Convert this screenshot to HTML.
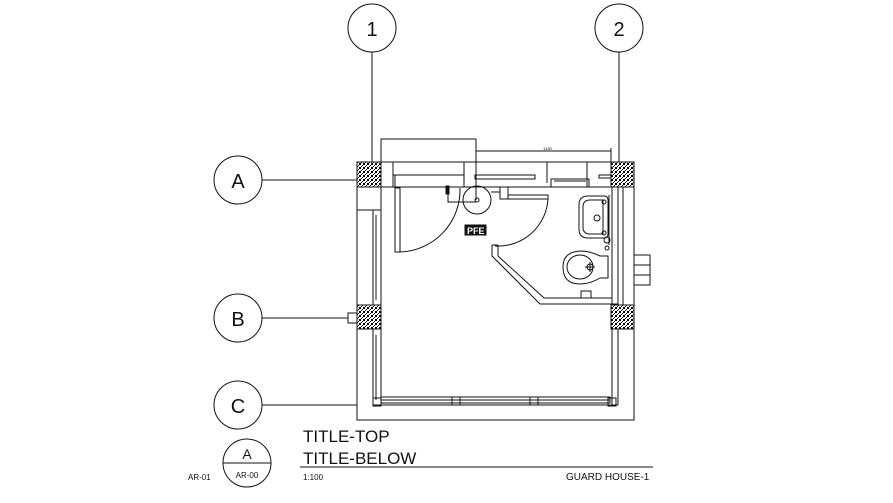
<!DOCTYPE html>
<html><head><meta charset="utf-8"><style>
html,body{margin:0;padding:0;background:#fff;}
svg{display:block;}
text{font-family:"Liberation Sans",sans-serif;fill:#111;}
</style></head><body>
<svg width="893" height="503" viewBox="0 0 893 503" xmlns="http://www.w3.org/2000/svg">
<defs>
<pattern id="hatch" width="4" height="4" patternUnits="userSpaceOnUse">
<rect width="4" height="4" fill="#fff"/>
<rect x="0" y="0" width="1" height="1" fill="#000"/><rect x="2" y="1" width="1" height="1" fill="#000"/>
<rect x="1" y="2" width="1" height="1" fill="#000"/><rect x="3" y="3" width="1" height="1" fill="#000"/>
<rect x="3" y="0" width="1" height="1" fill="#000"/><rect x="0" y="3" width="1" height="1" fill="#000"/>
</pattern>
</defs>
<g fill="none" stroke="#111" stroke-width="1">
<!-- grid bubbles -->
<circle cx="372" cy="28" r="24"/><line x1="372" y1="52" x2="372" y2="162"/>
<circle cx="619" cy="28" r="24"/><line x1="619" y1="52" x2="619" y2="162"/>
<circle cx="238" cy="180" r="24"/><line x1="262" y1="180" x2="357" y2="180"/>
<circle cx="238" cy="318" r="24"/><line x1="262" y1="318" x2="348" y2="318"/>
<circle cx="238" cy="405" r="24"/><line x1="262" y1="405" x2="357" y2="405"/>
<!-- outer -->
<rect x="357" y="162" width="277" height="258"/>
<line x1="357" y1="187" x2="634" y2="187"/>
<line x1="357" y1="210" x2="381" y2="210"/>
<line x1="381" y1="162" x2="381" y2="405"/>
<line x1="373" y1="210" x2="373" y2="405"/>
<line x1="376" y1="215" x2="376" y2="300"/><line x1="376" y1="335" x2="376" y2="400"/>
<line x1="612" y1="187" x2="612" y2="405"/>
<line x1="618" y1="187" x2="618" y2="405"/>
<line x1="623" y1="187" x2="623" y2="305"/>
<line x1="373" y1="405" x2="618" y2="405"/>
<rect x="381" y="397" width="229" height="6"/>
<line x1="381" y1="400" x2="610" y2="400"/>
<rect x="452" y="397" width="8" height="8"/><rect x="530" y="397" width="8" height="8"/>
<rect x="373" y="398" width="8" height="8"/><rect x="608" y="398" width="8" height="8"/>
<!-- left step & right step -->
<rect x="348" y="313" width="9" height="10"/>
<rect x="634" y="255" width="16" height="30"/><line x1="634" y1="265" x2="650" y2="265"/><line x1="634" y1="275" x2="650" y2="275"/>
<!-- top entry box -->
<polyline points="381,162 381,139 476,139 476,200"/>
<line x1="476" y1="147" x2="476" y2="162"/>
<line x1="476" y1="151" x2="611" y2="151"/><line x1="611" y1="148" x2="611" y2="162"/>
<!-- top counter -->
<rect x="464" y="162" width="154" height="25"/>
<line x1="393" y1="162" x2="393" y2="187"/><line x1="393" y1="175" x2="464" y2="175"/>
<line x1="395" y1="175" x2="395" y2="187"/>
<rect x="475" y="175" width="60" height="4"/>
<line x1="547" y1="162" x2="547" y2="183"/>
<rect x="551" y="179" width="38" height="8"/><line x1="554" y1="181" x2="586" y2="181"/>
<line x1="587" y1="162" x2="587" y2="187"/>
<rect x="599" y="175" width="12" height="3"/>
<!-- door 1 -->
<rect x="395" y="188" width="5" height="64"/>
<path d="M400,252 A62,62 0 0 0 460,188"/>
<path d="M448,188 L448,202 L476,202"/>
<rect x="446" y="186" width="3" height="8" fill="#111"/>
<circle cx="477" cy="200" r="14"/><circle cx="477" cy="200" r="2"/>
<line x1="491" y1="192" x2="500" y2="192"/>
<!-- PFE -->
<rect x="465" y="225" width="21" height="10" fill="#111"/>
<!-- door 2 -->
<rect x="500" y="187" width="8" height="12"/>
<rect x="508" y="195" width="40" height="4"/>
<path d="M548,199 A50,50 0 0 1 495,246"/>
<!-- partition -->
<polyline points="492,245 492,256 540,304 618,304"/>
<polyline points="498,245 498,256 544,298 612,298"/>
<line x1="492" y1="245" x2="498" y2="245"/>
<rect x="581" y="291" width="10" height="7"/>
<!-- sink -->
<path d="M588,196 L604,196 Q608,196 608,200 L608,234 Q608,238 604,238 L588,238 Q579,238 579,229 L579,205 Q579,196 588,196 Z"/>
<path d="M590,200 L603,200 L603,234 L590,234 Q583,234 583,227 L583,207 Q583,200 590,200 Z"/>
<circle cx="597" cy="218" r="3"/><circle cx="604" cy="202" r="2"/><circle cx="604" cy="233" r="2"/>
<line x1="609" y1="195" x2="609" y2="245"/>
<circle cx="607" cy="240" r="3"/><circle cx="607" cy="248" r="2"/>
<!-- toilet -->
<path d="M600,256 L608,256 L608,278 L600,278 Q590,284 580,284 Q563,284 563,267 Q563,252 580,251 Q590,251 600,256 Z"/>
<ellipse cx="580" cy="267" rx="13" ry="12"/>
<circle cx="590" cy="267" r="3"/><line x1="585" y1="267" x2="595" y2="267"/><line x1="590" y1="262" x2="590" y2="272"/>
<!-- title lines -->
<line x1="300" y1="467" x2="653" y2="467"/>
<circle cx="247" cy="463" r="24"/>
<line x1="223" y1="463" x2="271" y2="463"/>
</g>
<!-- columns -->
<g fill="url(#hatch)" stroke="#111">
<rect x="357" y="162" width="24" height="25"/>
<rect x="611" y="162" width="23" height="25"/>
<rect x="357" y="305" width="24" height="24"/>
<rect x="611" y="305" width="23" height="24"/>
</g>
<g>
<text x="372" y="36" font-size="20" text-anchor="middle">1</text>
<text x="619" y="36" font-size="20" text-anchor="middle">2</text>
<text x="238" y="188" font-size="20" text-anchor="middle">A</text>
<text x="238" y="326" font-size="20" text-anchor="middle">B</text>
<text x="238" y="413" font-size="20" text-anchor="middle">C</text>
<text x="467" y="234" font-size="9" font-weight="bold" fill="#fff" style="fill:#fff">PFE</text>
<text x="543" y="150" font-size="4">1450</text>
<text x="303" y="442" font-size="17" transform="scale(1,1)">TITLE-TOP</text>
<text x="303" y="464" font-size="17">TITLE-BELOW</text>
<text x="247" y="459" font-size="14" text-anchor="middle">A</text>
<text x="247" y="478" font-size="8" text-anchor="middle">AR-00</text>
<text x="188" y="480" font-size="8">AR-01</text>
<text x="303" y="480" font-size="8">1:100</text>
<text x="566" y="480" font-size="10">GUARD HOUSE-1</text>
</g>
</svg>
</body></html>
